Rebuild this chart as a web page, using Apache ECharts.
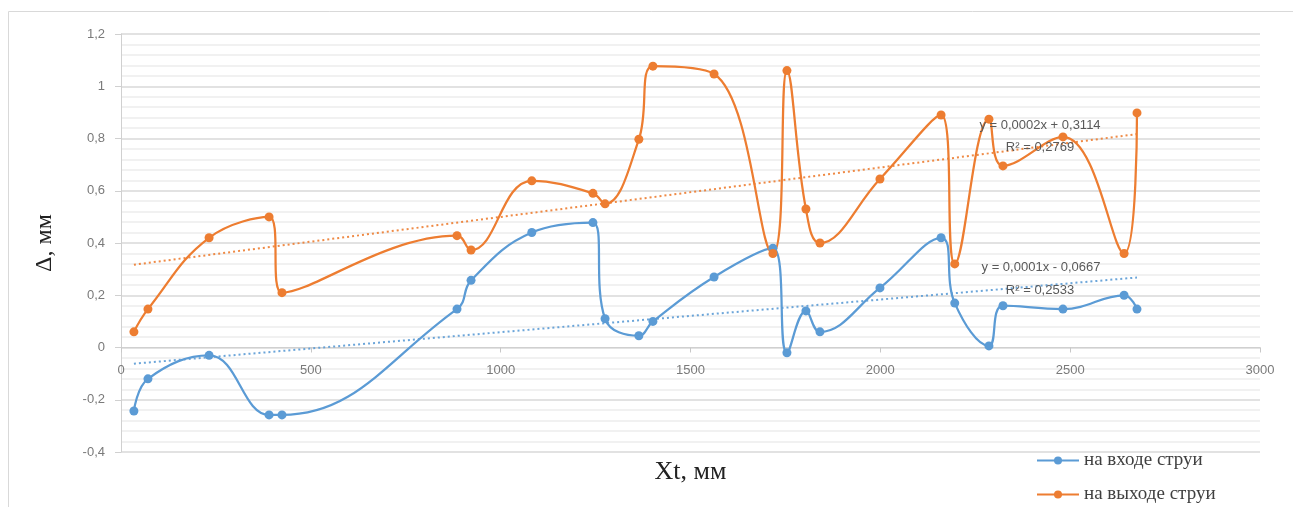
<!DOCTYPE html>
<html><head><meta charset="utf-8">
<script src="https://cdn.jsdelivr.net/npm/echarts@6/dist/echarts.min.js"></script>
<style>html,body{margin:0;padding:0;background:#fff}#c{width:1293px;height:507px}</style>
</head><body><div id="c"></div>
<script>
const xPositions = [34, 71, 232, 390, 424, 885, 922, 1082, 1243, 1275, 1364, 1401, 1562, 1717, 1754, 1804, 1841, 1999, 2160, 2196, 2286, 2323, 2481, 2642, 2676];
const inletValues = [-0.243, -0.12, -0.03, -0.258, -0.258, 0.147, 0.257, 0.44, 0.478, 0.11, 0.045, 0.10, 0.27, 0.38, -0.02, 0.14, 0.06, 0.228, 0.42, 0.17, 0.006, 0.16, 0.147, 0.20, 0.147];
const outletValues = [0.06, 0.147, 0.42, 0.50, 0.21, 0.428, 0.373, 0.638, 0.59, 0.55, 0.797, 1.077, 1.047, 0.36, 1.06, 0.53, 0.40, 0.645, 0.89, 0.32, 0.874, 0.695, 0.806, 0.36, 0.898];
const inletTrend = [[34, -0.062], [2676, 0.268]];
const outletTrend = [[34, 0.317], [2676, 0.817]];
const seriesNames = ['на входе струи', 'на выходе струи'];
const trendLabels = ['y = 0,0002x + 0,3114', 'R² = 0,2769', 'y = 0,0001x - 0,0667', 'R² = 0,2533'];
const xTitle = 'Xt, мм';
const yTitle = 'Δ, мм';

const BLUE = '#5B9BD5', ORANGE = '#ED7D31';
const pair = (xs, ys) => xs.map((x, i) => [x, ys[i]]);
const chart = echarts.init(document.getElementById('c'), null, {renderer: 'canvas'});
const lineSeries = (name, data, color) => ({
  name, type: 'line', data, smooth: 0.42, symbol: 'circle', symbolSize: 9,
  itemStyle: {color}, lineStyle: {color, width: 2.25}, z: 5
});
const trendSeries = (data, color) => ({
  type: 'line', data, symbol: 'none', silent: true,
  lineStyle: {color, width: 2, type: [2, 3], opacity: 0.9}, z: 3
});
const lbl = (text, x, y) => ({type: 'text', x, y, z: 100,
  style: {text, fill: '#595959', font: '13px "Liberation Sans"', align: 'center', verticalAlign: 'middle'}});
const legendBox = (name, top) => ({
  data: [name], orient: 'vertical', left: 1031, top,
  itemWidth: 42, itemHeight: 10, itemGap: 6,
  textStyle: {fontFamily: 'Liberation Serif', fontSize: 19, color: '#404040'}
});

chart.setOption({
  animation: false,
  grid: {left: 121, right: 33, top: 34, bottom: 55, outerBoundsMode: 'none', containLabel: false},
  xAxis: {
    type: 'value', min: 0, max: 3000, interval: 500, position: 'bottom', offset: -104.5,
    axisLine: {onZero: false, lineStyle: {color: '#d0d0d0'}},
    axisTick: {show: true, length: 5, lineStyle: {color: '#c8c8c8'}},
    axisLabel: {color: '#7a7a7a', fontSize: 13, fontFamily: 'Liberation Sans', margin: 16, formatter: v => String(v)},
    splitLine: {show: false},
    name: xTitle, nameLocation: 'middle', nameGap: 112,
    nameTextStyle: {fontFamily: 'Liberation Serif', fontSize: 26, color: '#222'}
  },
  yAxis: {
    type: 'value', min: -0.4, max: 1.2, interval: 0.2,
    axisLine: {show: true, lineStyle: {color: '#d0d0d0'}},
    axisTick: {show: true, length: 6, lineStyle: {color: '#d0d0d0'}},
    axisLabel: {color: '#7a7a7a', fontSize: 13, fontFamily: 'Liberation Sans', margin: 16,
      formatter: v => String(Math.round(v * 10) / 10).replace('.', ',')},
    splitLine: {show: true, lineStyle: {color: '#d9d9d9', width: 1.5}},
    minorTick: {show: false, splitNumber: 5},
    minorSplitLine: {show: true, lineStyle: {color: '#ededed', width: 1.5}},
    name: yTitle, nameLocation: 'middle', nameGap: 64, nameRotate: 90,
    nameTextStyle: {fontFamily: 'Liberation Serif', fontSize: 24, color: '#222'}
  },
  legend: [legendBox(seriesNames[0], 446), legendBox(seriesNames[1], 480)],
  graphic: [
    {type: 'rect', shape: {x: 8.5, y: 11.5, width: 1320, height: 520}, style: {fill: 'none', stroke: '#d9d9d9', lineWidth: 1}, z: -1, silent: true},
    lbl(trendLabels[0], 1040, 125),
    lbl(trendLabels[1], 1040, 147),
    lbl(trendLabels[2], 1041, 267),
    lbl(trendLabels[3], 1040, 290)
  ],
  series: [
    trendSeries(inletTrend, BLUE),
    trendSeries(outletTrend, ORANGE),
    lineSeries(seriesNames[0], pair(xPositions, inletValues), BLUE),
    lineSeries(seriesNames[1], pair(xPositions, outletValues), ORANGE)
  ]
});
</script></body></html>
